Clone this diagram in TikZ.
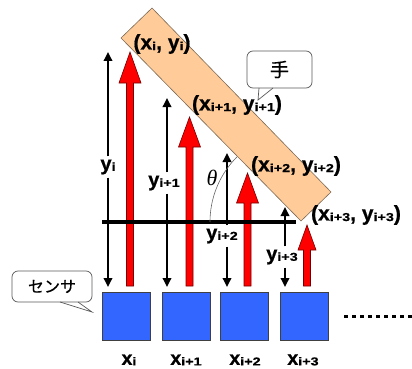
\documentclass[tikz,border=0pt]{standalone}
\usepackage{fontspec}
\setmainfont{Liberation Sans}
\newfontfamily\lbf[FakeBold=0.8]{Liberation Sans Bold}
\newfontfamily\jpfont[FakeBold=0.5]{Noto Sans CJK JP}
\newfontfamily\subfont[FakeStretch=1.25,FakeBold=0.6]{Liberation Sans Bold}
\newfontfamily\thfont{Liberation Serif Italic}
\usetikzlibrary{arrows.meta}
\definecolor{handfill}{RGB}{255,204,153}
\definecolor{handedge}{RGB}{125,105,85}
\definecolor{sensorblue}{RGB}{51,102,255}
\definecolor{arrowred}{RGB}{255,0,0}
\newcommand\vv[3]{{\lbf\fontsize{#3}{#3}\selectfont #1}\raisebox{-0.6pt}{\subfont\fontsize{11.5}{11.5}\selectfont #2}}
\newcommand\pt[3]{{\lbf\fontsize{#3}{#3}\selectfont (}\vv{x}{#1}{#3}{\lbf\fontsize{#3}{#3}\selectfont , }\vv{y}{#2}{#3}{\lbf\fontsize{#3}{#3}\selectfont )}}
% red arrow: x, bottom y, tip y, head length, head half width
\newcommand\redarr[5]{\filldraw[redarrow] (#1-3.5,#2) -- (#1-3.5,#3+#4) -- (#1-#5,#3+#4) -- (#1,#3) -- (#1+#5,#3+#4) -- (#1+3.5,#3+#4) -- (#1+3.5,#2) -- cycle;}
\begin{document}
\begin{tikzpicture}[x=1pt,y=-1pt,
  sensor/.style={draw=black!75, line width=0.8pt, fill=sensorblue, minimum size=48pt, inner sep=0pt},
  blk/.style={line width=1.8pt, -{Triangle[length=9pt,width=8.5pt]}},
  redarrow/.style={fill=arrowred, draw=black!55!red, line width=0.6pt},
  ylab/.style={inner sep=3pt},
  xlab/.style={inner sep=1pt},
  ptlab/.style={inner sep=0pt},
  callout/.style={draw=black!65, line width=0.7pt, fill=white, rounded corners=6pt, inner sep=0pt}
]
\useasboundingbox (0,0) rectangle (412,369);

% sensors
\node[sensor] (s1) at (126.5,316) {};
\node[sensor] (s2) at (186,316) {};
\node[sensor] (s3) at (244.5,316) {};
\node[sensor] (s4) at (304,316) {};
\node[xlab] (x1) at (129,360) {\vv{x}{i}{19.5}};
\node[xlab] (x2) at (186,360) {\vv{x}{i+1}{19.5}};
\node[xlab] (x3) at (245,360) {\vv{x}{i+2}{19.5}};
\node[xlab] (x4) at (303,360) {\vv{x}{i+3}{19.5}};

% dotted continuation
\coordinate (d1) at (344,316);
\coordinate (d2) at (412,316);
\draw[line width=3pt, dash pattern=on 4pt off 4pt] (d1) -- (d2);

% black distance arrows
\coordinate (t1) at (108,52);  \coordinate (b1) at (108,287);
\coordinate (t2) at (167,98);  \coordinate (b2) at (167,287);
\coordinate (t3) at (227,153); \coordinate (b3) at (227,287);
\coordinate (t4) at (285,207); \coordinate (b4) at (285,287);
\node[ylab] (y1) at (108,167) {\vv{y}{i}{20}};
\node[ylab] (y2) at (164,183) {\vv{y}{i+1}{20}};
\node[ylab] (y3) at (222,236) {\vv{y}{i+2}{20}};
\node[ylab] (y4) at (282,257) {\vv{y}{i+3}{20}};
\draw[blk] (y1.north -| t1) -- (t1);
\draw[blk] (y1.south -| b1) -- (b1);
\draw[blk] (y2.north -| t2) -- (t2);
\draw[blk] (y2.south -| b2) -- (b2);
\draw[blk] (y3.north -| t3) -- (t3);
\draw[blk] (y3.south -| b3) -- (b3);
\draw[blk] (y4.north -| t4) -- (t4);
\draw[blk] (y4.south -| b4) -- (b4);

% red reflection arrows
\redarr{130}{286}{52}{31}{11}
\redarr{189.5}{286}{117}{30}{11}
\redarr{247.5}{286}{173}{30}{11}
\redarr{307}{286}{225}{25}{9}

% horizontal reference line
\coordinate (hl) at (102,222);
\coordinate (hr) at (296,222);
\draw[line width=4pt] (hl) -- (hr);

% hand
\coordinate (hA) at (121,38);
\coordinate (hB) at (152,8);
\coordinate (hC) at (331,192);
\coordinate (hD) at (301,221);
\filldraw[fill=handfill, draw=handedge, line width=0.6pt] (hA) -- (hB) -- (hC) -- (hD) -- cycle;

% angle arc
\draw[black!60, line width=0.6pt] plot[domain=135:180, samples=40] ({302+92*cos(\x)},{222-92*sin(\x)});
\node (th) at (212,178) {\thfont\fontsize{22}{22}\selectfont θ};

% coordinate labels
\node[ptlab] (p1) at (162,44) {\pt{i}{i}{21}};
\node[ptlab] (p2) at (237,105) {\pt{i+1}{i+1}{21}};
\node[ptlab] (p3) at (296,166) {\pt{i+2}{i+2}{21}};
\node[ptlab] (p4) at (356,215) {\pt{i+3}{i+3}{21}};

% callout: hand
\node[callout, minimum width=65pt, minimum height=37pt] (hbox) at (279.5,69.5) {\jpfont\fontsize{19}{19}\selectfont 手};
\coordinate (hp1) at (259,88);
\coordinate (hp2) at (273,88);
\coordinate (htip) at (258,100);
\fill[white] ([yshift=-1pt]hp1) -- (htip) -- ([yshift=-1pt]hp2) -- cycle;
\draw[black!65, line width=0.7pt] (hp1) -- (htip) -- (hp2);

% callout: sensor
\node[callout, minimum width=80pt, minimum height=31pt] (sbox) at (52,286.5) {\jpfont\fontsize{16}{16}\selectfont センサ};
\coordinate (sp1) at (60,302);
\coordinate (sp2) at (78,302);
\coordinate (stip) at (92,312);
\fill[white] ([yshift=-1pt]sp1) -- (stip) -- ([yshift=-1pt]sp2) -- cycle;
\draw[black!65, line width=0.7pt] (sp1) -- (stip) -- (sp2);
\end{tikzpicture}
\end{document}
